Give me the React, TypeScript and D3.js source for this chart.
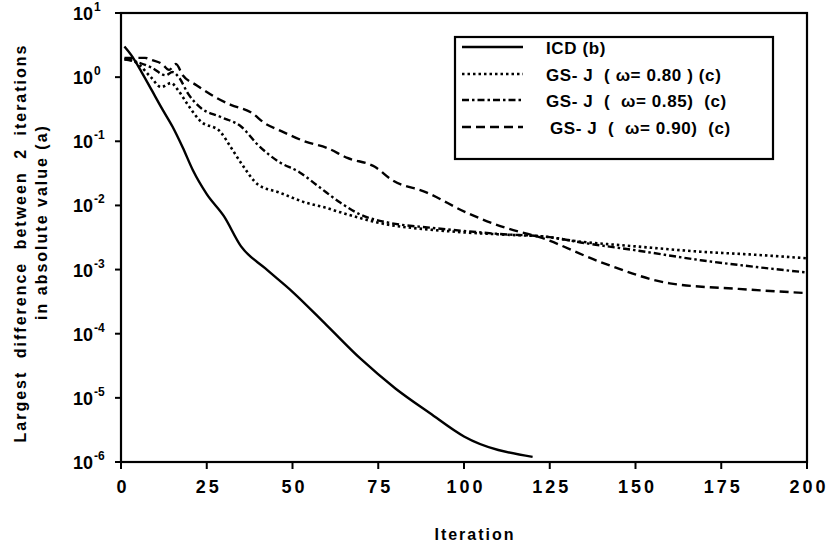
import { useMemo } from "react";
import * as d3 from "d3";

// iteration / value pairs
const icdIter = [1, 3, 6, 9, 12, 15, 18, 21, 25, 30, 35, 42, 50, 60, 70, 80, 90, 100, 120];
const icdVal = [3.0, 2.2, 1.2, 0.62, 0.32, 0.17, 0.08, 0.035, 0.015, 0.0068, 0.0023, 0.00105, 0.00045, 0.000135, 0.00004, 0.000014, 0.0000058, 0.0000025, 0.0000012];

const gs80Iter = [1, 4, 8.7, 11.7, 14.6, 16.6, 19.5, 23, 29, 32, 35, 40, 46, 54, 60, 64, 78, 90, 100, 112, 125, 130, 150, 169, 185, 200];
const gs80Val = [1.9, 1.75, 1.0, 0.7, 0.81, 0.63, 0.37, 0.21, 0.14, 0.081, 0.046, 0.021, 0.016, 0.011, 0.0091, 0.0078, 0.005, 0.0042, 0.0038, 0.0035, 0.0032, 0.0029, 0.0023, 0.0019, 0.0017, 0.0015];

const gs85Iter = [1, 5, 9, 13, 15, 17, 19.5, 23, 29, 35, 40, 46, 52, 58, 64, 70, 78, 90, 100, 110, 125, 135, 150, 169, 185, 200];
const gs85Val = [1.9, 1.7, 1.4, 1.07, 1.2, 0.97, 0.56, 0.34, 0.24, 0.17, 0.087, 0.048, 0.033, 0.019, 0.011, 0.0071, 0.0054, 0.0045, 0.004, 0.0036, 0.0032, 0.0026, 0.002, 0.0014, 0.0011, 0.0009];

const gs90Iter = [1, 4, 7, 9, 12, 14, 16, 18, 22, 28, 32, 38, 42, 46, 54, 60, 66, 74, 79, 89, 101, 112, 122, 140, 160, 180, 200];
const gs90Val = [2.0, 2.0, 2.0, 1.85, 1.6, 1.3, 1.6, 1.07, 0.75, 0.47, 0.37, 0.28, 0.19, 0.15, 0.098, 0.079, 0.055, 0.04, 0.025, 0.016, 0.0076, 0.0045, 0.0032, 0.0013, 0.00061, 0.0005, 0.00043];

const xTicks = [0, 25, 50, 75, 100, 125, 150, 175, 200];
const yExponents = [1, 0, -1, -2, -3, -4, -5, -6];

const legendLabels = [
  "ICD (b)",
  "GS- J  ( \u03c9= 0.80 ) (c)",
  "GS- J  (  \u03c9= 0.85)  (c)",
  "GS- J  (  \u03c9= 0.90)  (c)",
];

const W = 829;
const H = 548;
const left = 121, right = 807, top = 13, bottom = 462;
const font = "'Liberation Sans', Arial, Helvetica, sans-serif";

const series = [
  { iter: icdIter, val: icdVal, dash: "none", width: 2.4 },
  { iter: gs80Iter, val: gs80Val, dash: "2.5,3", width: 2.6 },
  { iter: gs85Iter, val: gs85Val, dash: "7,3,2.5,3", width: 2.4 },
  { iter: gs90Iter, val: gs90Val, dash: "9,5", width: 2.4 },
];

export default function App() {
  const x = useMemo(() => d3.scaleLinear().domain([0, 200]).range([left, right]), []);
  const y = useMemo(() => d3.scaleLog().domain([1e-6, 10]).range([bottom, top]), []);

  const makeLine = (iter: number[], val: number[]) =>
    d3
      .line<number>()
      .x((d, i) => x(iter[i]))
      .y((d) => y(d))
      .curve(d3.curveMonotoneX)(val) as string;

  const legendRows = [48, 75, 101, 128];

  return (
    <svg width={W} height={H} style={{ position: "absolute", left: 0, top: 0, display: "block", background: "#fff" }}>
      {/* frame */}
      <rect x={left} y={top} width={right - left} height={bottom - top} fill="none" stroke="#000" strokeWidth={2.2} />

      {/* x ticks */}
      {xTicks.map((t) => (
        <g key={t}>
          <line x1={x(t)} x2={x(t)} y1={bottom} y2={bottom + 7} stroke="#000" strokeWidth={2} />
          <text x={x(t) + 2} y={493} textAnchor="middle" fontFamily={font} fontWeight="bold" fontSize={18} letterSpacing={3}>
            {t}
          </text>
        </g>
      ))}

      {/* y ticks */}
      {yExponents.map((e) => (
        <g key={e}>
          <line x1={left - 6} x2={left} y1={y(Math.pow(10, e))} y2={y(Math.pow(10, e))} stroke="#000" strokeWidth={2} />
          <text x={93} y={y(Math.pow(10, e)) + 7} textAnchor="end" fontFamily={font} fontWeight="bold" fontSize={18}>
            10
          </text>
          <text x={94} y={y(Math.pow(10, e)) - 2} fontFamily={font} fontWeight="bold" fontSize={12}>
            {e < 0 ? "-" + Math.abs(e) : e}
          </text>
        </g>
      ))}

      {/* data */}
      {series.map((s, i) => (
        <path
          key={i}
          d={makeLine(s.iter, s.val)}
          fill="none"
          stroke="#000"
          strokeWidth={s.width}
          strokeDasharray={s.dash}
        />
      ))}

      {/* legend */}
      <rect x={455} y={37} width={318} height={122} fill="#fff" stroke="#000" strokeWidth={2.2} />
      {legendLabels.map((lab, i) => (
        <g key={lab}>
          <line
            x1={462}
            x2={523}
            y1={legendRows[i] - 1}
            y2={legendRows[i] - 1}
            stroke="#000"
            strokeWidth={series[i].width}
            strokeDasharray={series[i].dash}
          />
          <text
            x={i === 3 ? 550 : 546}
            y={legendRows[i] + 6}
            fontFamily={font}
            fontWeight="bold"
            fontSize={17}
            letterSpacing={0.6}
            style={{ whiteSpace: "pre" }}
          >
            {lab}
          </text>
        </g>
      ))}

      {/* axis titles */}
      <text x={475} y={540} textAnchor="middle" fontFamily={font} fontWeight="bold" fontSize={16} letterSpacing={2}>
        Iteration
      </text>
      <text
        transform={`translate(26,243) rotate(-90)`}
        textAnchor="middle"
        fontFamily={font}
        fontWeight="bold"
        fontSize={16}
        letterSpacing={2}
        wordSpacing={6}
      >
        Largest difference between 2 iterations
      </text>
      <text
        transform={`translate(47,222) rotate(-90)`}
        textAnchor="middle"
        fontFamily={font}
        fontWeight="bold"
        fontSize={16}
        letterSpacing={2}
      >
        in absolute value (a)
      </text>
    </svg>
  );
}
